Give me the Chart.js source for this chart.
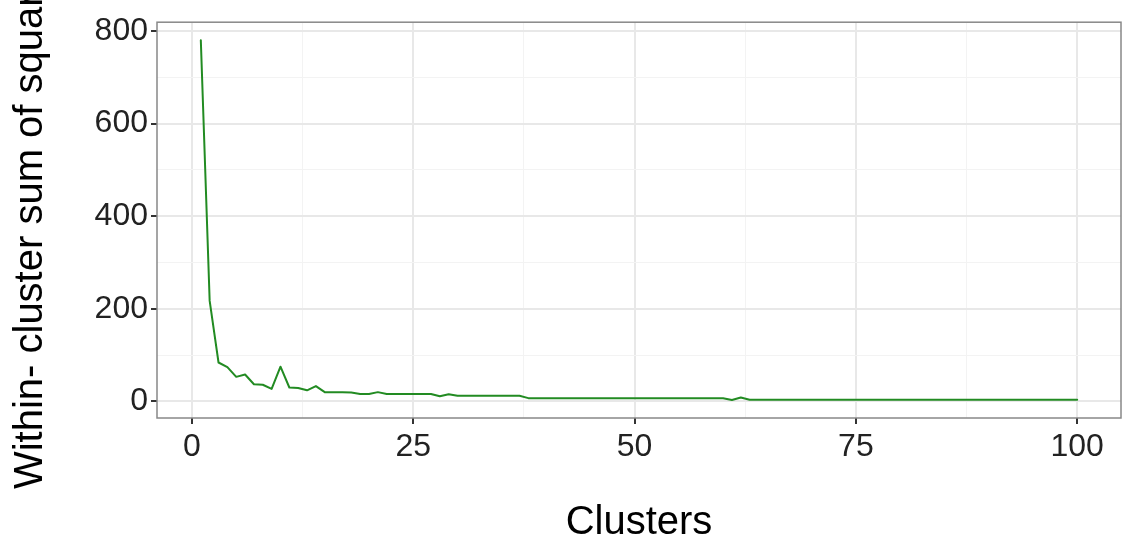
<!DOCTYPE html>
<html>
<head>
<meta charset="utf-8">
<script src="https://cdn.jsdelivr.net/npm/chart.js@4.4.1/dist/chart.umd.min.js"></script>
<style>
  html, body { margin: 0; padding: 0; background: #ffffff; }
  #wrap { width: 1128px; height: 552px; }
</style>
</head>
<body>
<div id="wrap"><canvas id="elbow" width="1128" height="552"></canvas></div>
<script>
// Number of clusters k = 1..100
const clusters = Array.from({ length: 100 }, (_, i) => i + 1);

// Total within-cluster sum of squares for each k
const wss = [
  780, 217, 84, 74, 53, 58, 37, 36, 27, 75,
  30, 29, 24, 33, 20, 20, 20, 19, 16, 16,
  20, 16, 16, 16, 16, 16, 16, 11, 15.5, 12,
  12, 12, 12, 12, 12, 12, 12, 7, 7, 7,
  7, 7, 7, 7, 7, 7, 7, 7, 7, 7,
  7, 7, 7, 7, 7, 7, 7, 7, 7, 7,
  3, 8.5, 3.5, 3.5, 3.5, 3.5, 3.5, 3.5, 3.5, 3.5,
  3.5, 3.5, 3.5, 3.5, 3.5, 3.5, 3.5, 3.5, 3.5, 3.5,
  3.5, 3.5, 3.5, 3.5, 3.5, 3.5, 3.5, 3.5, 3.5, 3.5,
  3.5, 3.5, 3.5, 3.5, 3.5, 3.5, 3.5, 3.5, 3.5, 3.5
];

// Axis breaks (labelled) and minor grid positions
const xTicks = [0, 25, 50, 75, 100];
const xMinor = [12.5, 37.5, 62.5, 87.5];
const yTicks = [0, 200, 400, 600, 800];
const yMinor = [100, 300, 500, 700];

const xTitleText = 'Clusters';
const yTitleText = 'Within- cluster sum of squares';

const FONT = '"Liberation Sans", Arial, Helvetica, sans-serif';

// 5% expansion of the data range on every side
const xLo = Math.min(...clusters), xHi = Math.max(...clusters);
const yLo = Math.min(...wss), yHi = Math.max(...wss);
const xPad = (xHi - xLo) * 0.05;
const yPad = (yHi - yLo) * 0.05;

const MAJOR_GRID = '#e8e8e8';
const MINOR_GRID = '#f3f3f3';
const TICK_MARK = '#333333';
const TICK_TEXT = '#222222';

function gridFor(major) {
  return {
    color: c => (c.tick && major.includes(c.tick.value)) ? MAJOR_GRID : MINOR_GRID,
    lineWidth: c => (c.tick && major.includes(c.tick.value)) ? 2 : 1,
    tickColor: c => (c.tick && major.includes(c.tick.value)) ? TICK_MARK : 'rgba(0,0,0,0)',
    tickLength: 6,
    tickWidth: 2,
    drawTicks: true,
    drawOnChartArea: true
  };
}

// Frame around the plotting panel
const panelBorder = {
  id: 'panelBorder',
  afterDatasetsDraw(chart) {
    const { ctx, chartArea: a } = chart;
    ctx.save();
    ctx.strokeStyle = '#888888';
    ctx.lineWidth = 1.5;
    ctx.strokeRect(a.left, a.top, a.right - a.left, a.bottom - a.top);
    ctx.restore();
  }
};

// Vertical axis title, allowed to run past the canvas edge
const yAxisTitle = {
  id: 'yAxisTitle',
  afterDraw(chart) {
    const { ctx, chartArea: a } = chart;
    ctx.save();
    ctx.translate(31, (a.top + a.bottom) / 2);
    ctx.rotate(-Math.PI / 2);
    ctx.font = '40px ' + FONT;
    ctx.fillStyle = '#000000';
    ctx.textAlign = 'center';
    ctx.textBaseline = 'middle';
    ctx.fillText(yTitleText, 0, 0);
    ctx.restore();
  }
};

new Chart(document.getElementById('elbow'), {
  type: 'line',
  data: {
    datasets: [{
      data: clusters.map((k, i) => ({ x: k, y: wss[i] })),
      borderColor: '#228B22',
      borderWidth: 2,
      borderJoinStyle: 'round',
      borderCapStyle: 'round',
      pointRadius: 0,
      pointHoverRadius: 0,
      tension: 0,
      fill: false
    }]
  },
  options: {
    responsive: false,
    animation: false,
    devicePixelRatio: 1,
    layout: { padding: { left: 0, right: 7, top: 19, bottom: 0 } },
    plugins: {
      legend: { display: false },
      tooltip: { enabled: false },
      title: { display: false }
    },
    scales: {
      x: {
        type: 'linear',
        min: xLo - xPad,
        max: xHi + xPad,
        afterBuildTicks: s => {
          s.ticks = [...xMinor, ...xTicks].sort((a, b) => a - b).map(v => ({ value: v }));
        },
        afterFit: s => { s.height = 134; },
        ticks: {
          callback: v => xTicks.includes(v) ? String(v) : '',
          autoSkip: false,
          maxRotation: 0,
          minRotation: 0,
          padding: 4,
          color: TICK_TEXT,
          font: { family: FONT, size: 32 }
        },
        grid: gridFor(xTicks),
        border: { display: false },
        title: {
          display: true,
          text: xTitleText,
          color: '#000000',
          font: { family: FONT, size: 40 },
          padding: { top: 0, bottom: 5 }
        }
      },
      y: {
        type: 'linear',
        min: yLo - yPad,
        max: yHi + yPad,
        afterBuildTicks: s => {
          s.ticks = [...yMinor, ...yTicks].sort((a, b) => a - b).map(v => ({ value: v }));
        },
        afterFit: s => { s.width = 157; },
        ticks: {
          callback: v => yTicks.includes(v) ? String(v) : '',
          autoSkip: false,
          padding: 3,
          color: TICK_TEXT,
          font: { family: FONT, size: 32 }
        },
        grid: gridFor(yTicks),
        border: { display: false },
        title: { display: false }
      }
    }
  },
  plugins: [panelBorder, yAxisTitle]
});
</script>
</body>
</html>
